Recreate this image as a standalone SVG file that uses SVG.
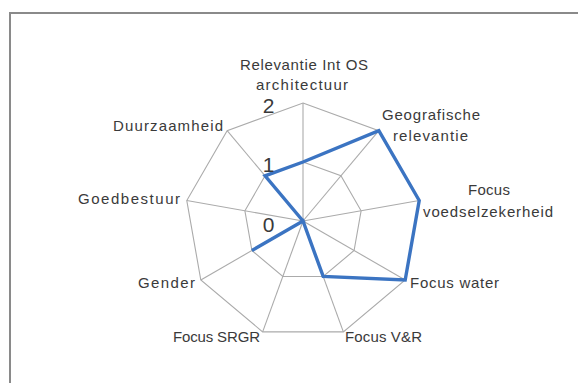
<svg xmlns="http://www.w3.org/2000/svg" width="578" height="383" viewBox="0 0 578 383">
  <style>
    .grid { fill: none; stroke: #ababab; stroke-width: 1.1; }
    .spoke { stroke: #ababab; stroke-width: 1.1; }
    .series { fill: none; stroke: #3b74c2; stroke-width: 3.4; stroke-linejoin: miter; }
    .lbl { font-family: "Liberation Sans", Arial, sans-serif; font-size: 15px; fill: #3a3a3a; }
    .tick { font-family: "Liberation Sans", Arial, sans-serif; font-size: 21px; fill: #3a3a3a; text-anchor: middle; }
    .frame { fill: none; stroke: #8a8a8a; stroke-width: 2; }
  </style>
  <rect x="0" y="0" width="578" height="383" fill="#ffffff"/>
  <path class="frame" d="M10,383 V13 H578"/>

  <g id="grid">
    <polygon class="grid" points="303,103 378.85,130.61 419.21,200.51 405.19,280 343.36,331.88 262.64,331.88 200.81,280 186.79,200.51 227.15,130.61"/>
    <polygon class="grid" points="303,162 340.93,175.81 361.1,210.76 354.09,250.5 323.18,276.44 282.82,276.44 251.91,250.5 244.9,210.76 265.07,175.81"/>
  </g>

  <g id="connectors">
    <line class="spoke" x1="303" y1="221" x2="303" y2="103"/>
    <line class="spoke" x1="303" y1="221" x2="378.85" y2="130.61"/>
    <line class="spoke" x1="303" y1="221" x2="419.21" y2="200.51"/>
    <line class="spoke" x1="303" y1="221" x2="405.19" y2="280"/>
    <line class="spoke" x1="303" y1="221" x2="343.36" y2="331.88"/>
    <line class="spoke" x1="303" y1="221" x2="262.64" y2="331.88"/>
    <line class="spoke" x1="303" y1="221" x2="200.81" y2="280"/>
    <line class="spoke" x1="303" y1="221" x2="186.79" y2="200.51"/>
    <line class="spoke" x1="303" y1="221" x2="227.15" y2="130.61"/>
  </g>

  <g id="series">
    <polygon class="series" points="303,162 378.85,130.61 419.21,200.51 405.19,280 323.18,276.44 303,221 251.91,250.5 303,221 265.07,175.81"/>
  </g>

  <g id="ticks">
    <text class="tick" x="268.5" y="113">2</text>
    <text class="tick" x="268.5" y="172">1</text>
    <text class="tick" x="268.5" y="232">0</text>
  </g>

  <g id="node-relevantie">
    <text class="lbl" x="240" y="70" textLength="128" lengthAdjust="spacing">Relevantie Int OS</text>
    <text class="lbl" x="256" y="90" textLength="92" lengthAdjust="spacing">architectuur</text>
  </g>
  <g id="node-geografische">
    <text class="lbl" x="382" y="120" textLength="98" lengthAdjust="spacing">Geografische</text>
    <text class="lbl" x="393" y="141" textLength="75" lengthAdjust="spacing">relevantie</text>
  </g>
  <g id="node-voedsel">
    <text class="lbl" x="468" y="195" textLength="42" lengthAdjust="spacing">Focus</text>
    <text class="lbl" x="423" y="216.5" textLength="130" lengthAdjust="spacing">voedselzekerheid</text>
  </g>
  <g id="node-water">
    <text class="lbl" x="410" y="288" textLength="89" lengthAdjust="spacing">Focus water</text>
  </g>
  <g id="node-vr">
    <text class="lbl" x="345" y="342" textLength="77" lengthAdjust="spacing">Focus V&amp;R</text>
  </g>
  <g id="node-srgr">
    <text class="lbl" x="173" y="342" textLength="87" lengthAdjust="spacing">Focus SRGR</text>
  </g>
  <g id="node-gender">
    <text class="lbl" x="138" y="288" textLength="57" lengthAdjust="spacing">Gender</text>
  </g>
  <g id="node-goedbestuur">
    <text class="lbl" x="78" y="204" textLength="102" lengthAdjust="spacing">Goedbestuur</text>
  </g>
  <g id="node-duurzaamheid">
    <text class="lbl" x="113" y="131" textLength="110" lengthAdjust="spacing">Duurzaamheid</text>
  </g>
</svg>
